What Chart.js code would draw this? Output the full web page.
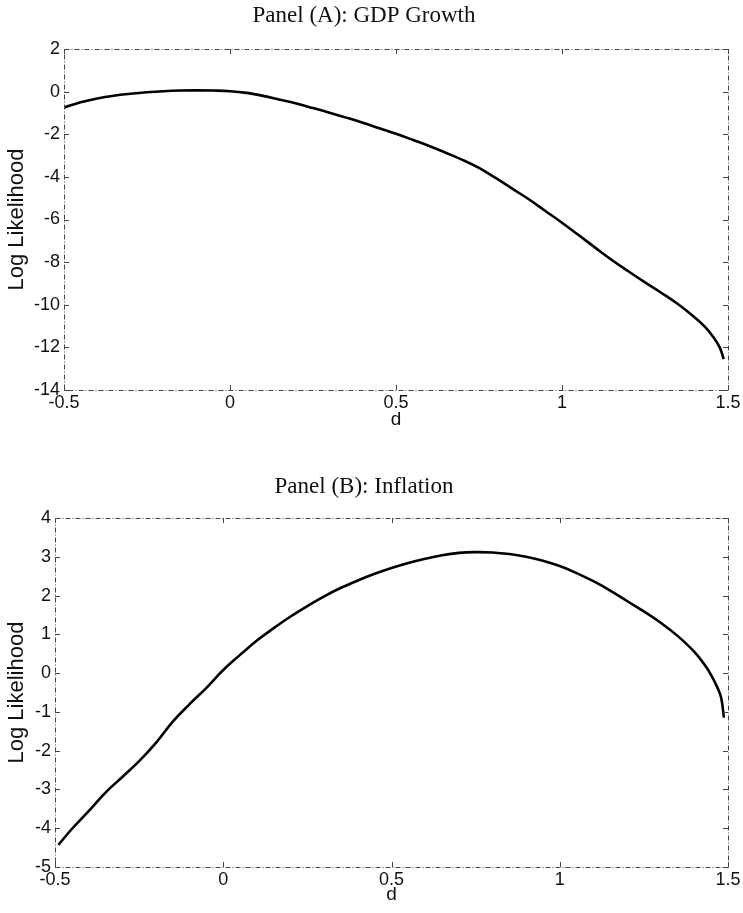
<!DOCTYPE html>
<html>
<head>
<meta charset="utf-8">
<script src="https://cdn.jsdelivr.net/npm/chart.js@4/dist/chart.umd.min.js"></script>
<style>
  body { margin: 0; background: #fff; }
  .panel { position: absolute; left: 0; width: 743px; }
  #boxA { top: 0; height: 440px; }
  #boxB { top: 440px; height: 473px; }
</style>
</head>
<body>
<div class="panel" id="boxA"><canvas id="chartA"></canvas></div>
<div class="panel" id="boxB"><canvas id="chartB"></canvas></div>
<script>
// fractional differencing parameter d
const dGdp = [-0.5, -0.45, -0.4, -0.35, -0.3, -0.25, -0.2, -0.15, -0.1, -0.05, 0, 0.05, 0.1, 0.15, 0.2, 0.25, 0.3, 0.35, 0.4, 0.45, 0.5, 0.55, 0.6, 0.65, 0.7, 0.75, 0.8, 0.85, 0.9, 0.95, 1.0, 1.05, 1.1, 1.15, 1.2, 1.25, 1.3, 1.35, 1.4, 1.43, 1.455, 1.475, 1.487];
const llGdp = [-0.75, -0.5, -0.32, -0.19, -0.1, -0.03, 0.02, 0.05, 0.06, 0.05, 0.02, -0.06, -0.2, -0.38, -0.56, -0.77, -0.99, -1.22, -1.46, -1.72, -1.98, -2.26, -2.55, -2.87, -3.2, -3.58, -4.05, -4.55, -5.05, -5.6, -6.15, -6.73, -7.32, -7.9, -8.43, -8.95, -9.45, -9.98, -10.6, -11.03, -11.5, -12.0, -12.55];

const dInfl = [-0.49, -0.45, -0.4, -0.35, -0.3, -0.25, -0.2, -0.15, -0.1, -0.05, 0, 0.05, 0.1, 0.15, 0.2, 0.25, 0.3, 0.35, 0.4, 0.45, 0.5, 0.55, 0.6, 0.65, 0.7, 0.75, 0.8, 0.85, 0.9, 0.95, 1.0, 1.05, 1.1, 1.15, 1.2, 1.25, 1.3, 1.35, 1.4, 1.43, 1.45, 1.47, 1.48, 1.488];
const llInfl = [-4.43, -4.02, -3.56, -3.08, -2.68, -2.27, -1.8, -1.25, -0.8, -0.38, 0.08, 0.47, 0.84, 1.16, 1.46, 1.73, 1.98, 2.2, 2.39, 2.56, 2.71, 2.84, 2.95, 3.04, 3.1, 3.12, 3.11, 3.07, 3.0, 2.9, 2.76, 2.58, 2.37, 2.13, 1.86, 1.59, 1.3, 0.96, 0.55, 0.22, -0.05, -0.4, -0.65, -1.15];

const xTickLabels = ['-0.5', '0', '0.5', '1', '1.5'];
const yTickLabelsA = ['-14', '-12', '-10', '-8', '-6', '-4', '-2', '0', '2'];
const yTickLabelsB = ['-5', '-4', '-3', '-2', '-1', '0', '1', '2', '3', '4'];

const sans = '"Liberation Sans", Arial, sans-serif';
const serif = '"Liberation Serif", "Times New Roman", serif';

// matlab-style box: dashed frame plus small inward ticks on all sides
const boxFrame = {
  id: 'boxFrame',
  afterDraw(chart) {
    const { ctx, chartArea: a, scales } = chart;
    ctx.save();
    ctx.strokeStyle = '#444';
    ctx.lineWidth = 1;
    ctx.setLineDash([5, 2, 1, 2]);
    ctx.strokeRect(a.left + 0.5, a.top + 0.5, a.right - a.left, a.bottom - a.top);
    ctx.setLineDash([]);
    ctx.beginPath();
    scales.x.ticks.forEach((t) => {
      const px = Math.round(scales.x.getPixelForValue(t.value)) + 0.5;
      ctx.moveTo(px, a.bottom); ctx.lineTo(px, a.bottom - 5);
      ctx.moveTo(px, a.top); ctx.lineTo(px, a.top + 5);
    });
    scales.y.ticks.forEach((t) => {
      const py = Math.round(scales.y.getPixelForValue(t.value)) + 0.5;
      ctx.moveTo(a.left, py); ctx.lineTo(a.left + 5, py);
      ctx.moveTo(a.right, py); ctx.lineTo(a.right - 5, py);
    });
    ctx.stroke();
    ctx.restore();
  }
};

const makeChart = (canvas, opts) => {
  const points = opts.xs.map((x, i) => ({ x: x, y: opts.ys[i] }));
  return new Chart(canvas, {
    type: 'line',
    data: {
      datasets: [
        {
          data: points,
          borderColor: '#000',
          borderWidth: 2.6,
          pointRadius: 0,
          tension: 0.4,
          fill: false,
        },
      ],
    },
    options: {
      responsive: true,
      maintainAspectRatio: false,
      animation: false,
      layout: { padding: { left: 0, right: 15, top: 0, bottom: opts.bottomPad } },
      plugins: {
        legend: { display: false },
        tooltip: { enabled: false },
        title: {
          display: true,
          text: opts.title,
          color: '#111',
          font: { family: serif, size: 23, weight: 'normal' },
          padding: opts.titlePad,
        },
      },
      scales: {
        x: {
          type: 'linear',
          min: -0.5,
          max: 1.5,
          afterFit: (scale) => { scale.height = opts.xHeight; },
          afterBuildTicks: (scale) => {
            scale.ticks = xTickLabels.map((s) => ({ value: parseFloat(s) }));
          },
          ticks: {
            color: '#111',
            padding: 2,
            maxRotation: 0,
            font: { family: sans, size: 18 },
            callback: (v) => xTickLabels.find((s) => parseFloat(s) === v),
          },
          grid: { display: false, drawTicks: false },
          border: { display: false },
          title: {
            display: true,
            text: 'd',
            color: '#111',
            font: { family: sans, size: 19 },
            padding: { top: 0, bottom: 0 },
          },
        },
        y: {
          min: opts.yMin,
          max: opts.yMax,
          afterFit: (scale) => { scale.width = opts.yWidth; },
          afterBuildTicks: (scale) => {
            scale.ticks = opts.yLabels.map((s) => ({ value: parseFloat(s) }));
          },
          ticks: {
            color: '#111',
            padding: 4,
            font: { family: sans, size: 18 },
            callback: (v) => opts.yLabels.find((s) => parseFloat(s) === v),
          },
          grid: { display: false, drawTicks: false },
          border: { display: false },
          title: {
            display: true,
            text: 'Log Likelihood',
            color: '#111',
            font: { family: sans, size: 22 },
            padding: { top: 4, bottom: 0 },
          },
        },
      },
    },
    plugins: [boxFrame],
  });
};

makeChart(document.getElementById('chartA'), {
  xs: dGdp,
  ys: llGdp,
  title: 'Panel (A): GDP Growth',
  titlePad: { top: 2, bottom: 19.4 },
  yMin: -14,
  yMax: 2,
  yLabels: yTickLabelsA,
  yWidth: 64,
  xHeight: 41,
  bottomPad: 9,
});

makeChart(document.getElementById('chartB'), {
  xs: dInfl,
  ys: llInfl,
  title: 'Panel (B): Inflation',
  titlePad: { top: 33, bottom: 17.4 },
  yMin: -5,
  yMax: 4,
  yLabels: yTickLabelsB,
  yWidth: 55,
  xHeight: 39,
  bottomPad: 7,
});
</script>
</body>
</html>
